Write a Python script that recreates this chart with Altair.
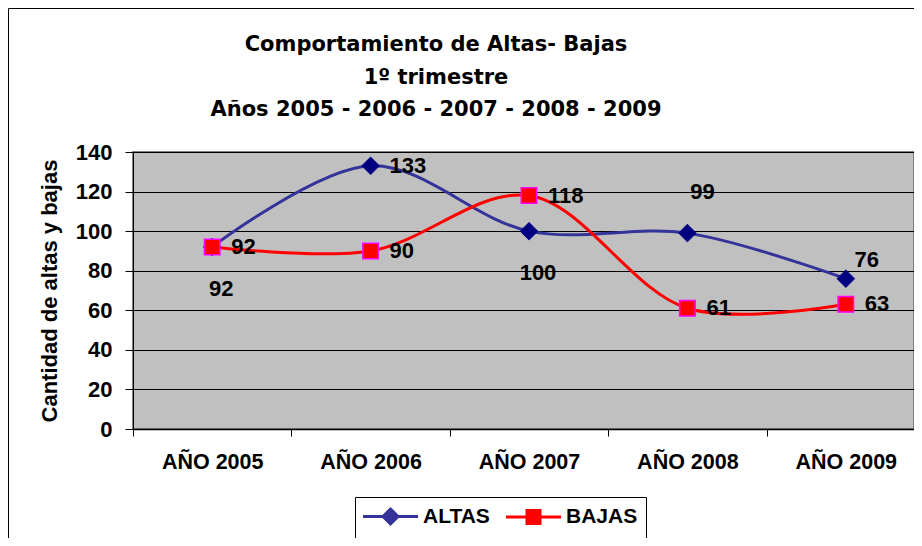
import altair as alt
import pandas as pd

# ---- data ----
years = ["AÑO 2005", "AÑO 2006", "AÑO 2007", "AÑO 2008", "AÑO 2009"]
altas = [92, 133, 100, 99, 76]
bajas = [92, 90, 118, 61, 63]
series_names = ["ALTAS", "BAJAS"]
# where each value label sits relative to its point (style only)
altas_label_place = ["below", "right", "below", "above", "upright"]
bajas_label_place = ["right", "right", "right", "right", "right"]

title_lines = ["Comportamiento de Altas- Bajas", "1º trimestre",
               "Años 2005 - 2006 - 2007 - 2008 - 2009"]
y_title = "Cantidad de altas y bajas"
y_ticks = [0, 20, 40, 60, 80, 100, 120, 140]

rows = []
for i, yr in enumerate(years):
    rows.append({"year": yr, "series": "ALTAS", "value": altas[i], "place": altas_label_place[i]})
for i, yr in enumerate(years):
    rows.append({"year": yr, "series": "BAJAS", "value": bajas[i], "place": bajas_label_place[i]})
df = pd.DataFrame(rows)

W, H = 781, 277      # visible plot area (the reference plot runs off the right edge)
X_RANGE = 792        # full band extent, partly cut off like the reference
FONT = "Liberation Sans"

x_enc = alt.X(
    "year:N", sort=years, bandPosition=0.5,
    scale=alt.Scale(type="band", paddingInner=0, paddingOuter=0, range=[0, X_RANGE]),
    axis=alt.Axis(title=None, labelAngle=0, tickBand="extent", tickSize=7,
                  labelPadding=15, labelFontSize=21.5, labelFont=FONT,
                  labelFontWeight="bold", labelColor="black",
                  domainColor="black", domainWidth=1.5, tickColor="black", grid=False),
)
y_enc = alt.Y(
    "value:Q",
    scale=alt.Scale(domain=[0, 140], nice=False, zero=True),
    axis=alt.Axis(values=y_ticks, title=y_title, grid=True, gridColor="black",
                  gridWidth=1, domainColor="black", tickColor="black", tickSize=8,
                  labelPadding=13, labelFontSize=22, labelFont=FONT,
                  labelFontWeight="bold", labelColor="black",
                  titleFont=FONT, titleFontSize=22, titleFontWeight="bold",
                  titleColor="black", titlePadding=14),
)

base = alt.Chart(df)
one_row = alt.Data(values=[{"f": 1}])

frame = alt.Chart(one_row).mark_rect(
    fill="white", fillOpacity=0, stroke="black", strokeWidth=1
).encode(x=alt.value(-124.5), x2=alt.value(2000), y=alt.value(-143.5), y2=alt.value(2000))

title = alt.Chart(one_row).mark_text(
    font="DejaVu Sans", fontSize=21, fontWeight="bold", color="black",
    lineHeight=32.5, align="center", baseline="middle",
).encode(x=alt.value(303), y=alt.value(-107), text=alt.value(title_lines))

# legend symbols: a line segment with a (stroke-filled) marker on it
diamond_sym = ("M-1.15,0L4.35,0"
               "M0.85,0L1.6,-0.75L2.35,0L1.6,0.75Z"
               "M1.15,0L1.6,-0.45L2.05,0L1.6,0.45Z"
               "M1.45,0L1.6,-0.15L1.75,0L1.6,0.15Z")
square_sym = ("M-1.15,0L4.35,0"
              "M0.95,-0.65L2.25,-0.65L2.25,0.65L0.95,0.65Z"
              "M1.25,-0.35L1.95,-0.35L1.95,0.35L1.25,0.35Z"
              "M1.55,-0.05L1.65,-0.05L1.65,0.05L1.55,0.05Z")

legend = alt.Legend(
    orient="none", legendX=222, legendY=345, direction="horizontal", title=None,
    strokeColor="black", fillColor="white", padding=8,
    labelFont=FONT, labelFontSize=21, labelFontWeight="bold", labelColor="black",
    labelOffset=37, columnPadding=10, symbolSize=400, symbolStrokeWidth=3,
    symbolType=diamond_sym, symbolOpacity=1,
)

lines = base.mark_line(interpolate="catmull-rom", strokeWidth=3).encode(
    x=x_enc, y=y_enc,
    color=alt.Color("series:N", scale=alt.Scale(domain=series_names, range=["#333399", "#FF0000"]),
                    legend=legend),
)

# invisible marks that only lend per-series symbol shapes to the (merged) legend
legend_shape_layer = base.mark_point(opacity=0).encode(
    x=x_enc, y=y_enc,
    shape=alt.Shape("series:N", scale=alt.Scale(domain=series_names, range=[diamond_sym, square_sym]),
                    legend=legend),
)

altas_pts = base.transform_filter(alt.datum.series == "ALTAS").mark_point(
    shape="diamond", filled=True, fill="#000080", stroke="#000080", strokeWidth=0.5,
    size=324, opacity=1
).encode(x=x_enc, y=y_enc)

bajas_pts = base.transform_filter(alt.datum.series == "BAJAS").mark_point(
    shape="square", filled=True, fill="#FF0000", stroke="#FF00FF", strokeWidth=1.5,
    size=240, opacity=1
).encode(x=x_enc, y=y_enc)

placements = {
    "right": dict(align="left", baseline="middle", dx=19, dy=0),
    "below": dict(align="center", baseline="middle", dx=9, dy=42),
    "above": dict(align="center", baseline="middle", dx=15, dy=-41),
    "upright": dict(align="center", baseline="middle", dx=21, dy=-19),
}
text_layers = []
for key, opts in placements.items():
    text_layers.append(
        base.transform_filter(alt.datum.place == key).mark_text(
            font=FONT, fontSize=22, fontWeight="bold", color="black", **opts
        ).encode(x=x_enc, y=y_enc, text=alt.Text("value:Q"))
    )

chart = alt.layer(frame, title, lines, legend_shape_layer, altas_pts, bajas_pts,
                  *text_layers).properties(
    width=W, height=H,
    padding={"left": 125, "top": 144, "right": 0, "bottom": 109},
    autosize="none",
).configure_view(fill="#C0C0C0", stroke="#808080", strokeWidth=2)

chart.save("out.html", embed_options={"renderer": "svg", "actions": False})
